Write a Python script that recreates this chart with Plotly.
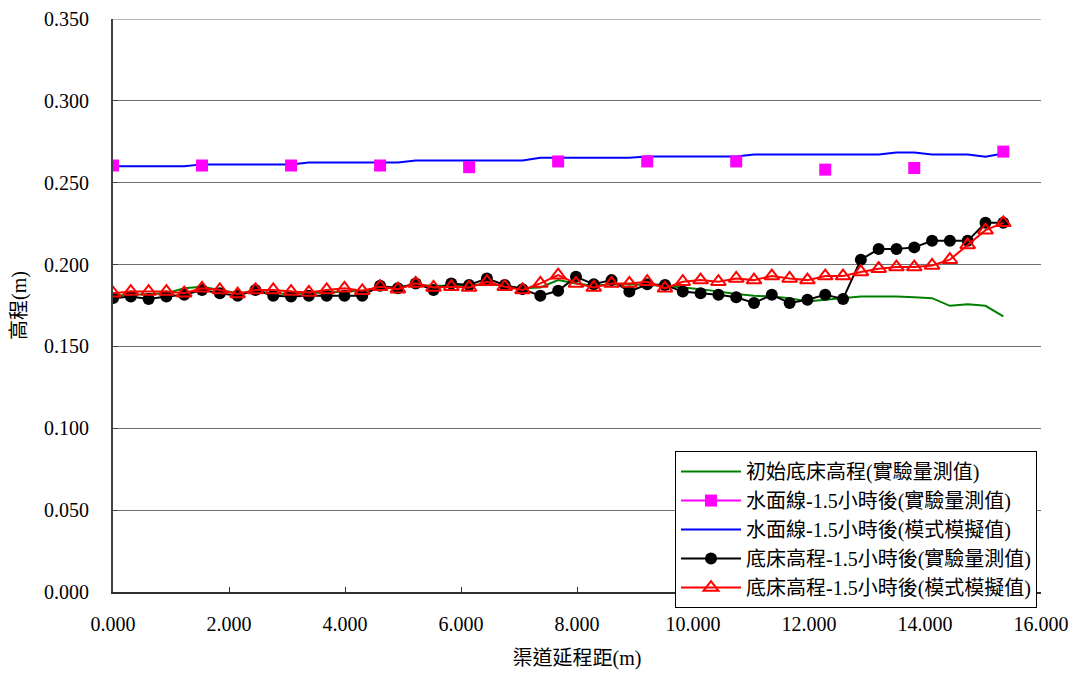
import plotly.graph_objects as go

# Distance along channel (m)
x_model = [0.000, 0.307, 0.614, 0.921, 1.228, 1.535, 1.842, 2.149, 2.456, 2.763,
           3.070, 3.377, 3.684, 3.991, 4.298, 4.605, 4.912, 5.219, 5.526, 5.833,
           6.140, 6.447, 6.754, 7.061, 7.368, 7.675, 7.982, 8.289, 8.596, 8.903,
           9.210, 9.517, 9.824, 10.131, 10.438, 10.745, 11.052, 11.359, 11.666, 11.973,
           12.280, 12.587, 12.894, 13.201, 13.508, 13.815, 14.122, 14.429, 14.736, 15.043,
           15.350]

# Initial bed elevation (measured)
bed_initial = [0.1810, 0.1815, 0.1820, 0.1825, 0.1855, 0.1865, 0.1845, 0.1825, 0.1835, 0.1825,
               0.1820, 0.1825, 0.1830, 0.1835, 0.1840, 0.1855, 0.1860, 0.1875, 0.1870, 0.1870,
               0.1870, 0.1880, 0.1870, 0.1855, 0.1860, 0.1905, 0.1885, 0.1870, 0.1880, 0.1880,
               0.1875, 0.1870, 0.1860, 0.1850, 0.1835, 0.1820, 0.1810, 0.1805, 0.1795, 0.1775,
               0.1785, 0.1795, 0.1805, 0.1805, 0.1805, 0.1800, 0.1795, 0.1748, 0.1758, 0.1748,
               0.1683]

# Water surface after 1.5 h (model)
water_model = [0.2600, 0.2600, 0.2600, 0.2600, 0.2600, 0.2612, 0.2612, 0.2612, 0.2612, 0.2612,
               0.2612, 0.2624, 0.2624, 0.2624, 0.2624, 0.2624, 0.2624, 0.2636, 0.2636, 0.2636,
               0.2636, 0.2636, 0.2636, 0.2636, 0.2652, 0.2652, 0.2652, 0.2652, 0.2652, 0.2652,
               0.2660, 0.2660, 0.2660, 0.2660, 0.2660, 0.2660, 0.2673, 0.2673, 0.2673, 0.2673,
               0.2673, 0.2673, 0.2673, 0.2673, 0.2685, 0.2685, 0.2673, 0.2673, 0.2673, 0.2659,
               0.2679]

# Bed elevation after 1.5 h (measured)
bed_measured = [0.1795, 0.1805, 0.1790, 0.1805, 0.1815, 0.1845, 0.1825, 0.1810, 0.1845, 0.1810,
                0.1805, 0.1810, 0.1810, 0.1810, 0.1810, 0.1870, 0.1855, 0.1885, 0.1845, 0.1885,
                0.1875, 0.1915, 0.1875, 0.1850, 0.1810, 0.1840, 0.1925, 0.1880, 0.1905, 0.1835,
                0.1880, 0.1875, 0.1835, 0.1825, 0.1815, 0.1800, 0.1765, 0.1815, 0.1765, 0.1785,
                0.1815, 0.1790, 0.2030, 0.2095, 0.2095, 0.2105, 0.2145, 0.2145, 0.2145, 0.2255,
                0.2255]

# Bed elevation after 1.5 h (model)
bed_model = [0.1825, 0.1835, 0.1835, 0.1835, 0.1825, 0.1855, 0.1845, 0.1820, 0.1845, 0.1845,
             0.1835, 0.1830, 0.1845, 0.1855, 0.1840, 0.1865, 0.1850, 0.1885, 0.1860, 0.1865,
             0.1860, 0.1895, 0.1865, 0.1845, 0.1885, 0.1935, 0.1885, 0.1860, 0.1885, 0.1885,
             0.1895, 0.1855, 0.1895, 0.1905, 0.1895, 0.1915, 0.1905, 0.1930, 0.1915, 0.1905,
             0.1930, 0.1930, 0.1955, 0.1975, 0.1985, 0.1985, 0.1995, 0.2030, 0.2120, 0.2210,
             0.2255]

# Water surface after 1.5 h (measured)
x_water_meas = [0.000, 1.535, 3.070, 4.605, 6.140, 7.675, 9.210, 10.745, 12.280, 13.815, 15.350]
water_measured = [0.2605, 0.2605, 0.2605, 0.2605, 0.2595, 0.2630, 0.2630, 0.2630, 0.2580, 0.2590, 0.2690]

# Axis ticks
y_ticks = [0.0, 0.05, 0.10, 0.15, 0.20, 0.25, 0.30, 0.35]
x_ticks = [0, 2, 4, 6, 8, 10, 12, 14, 16]

names = ["初始底床高程(實驗量測值)",
         "水面線-1.5小時後(實驗量測值)",
         "水面線-1.5小時後(模式模擬值)",
         "底床高程-1.5小時後(實驗量測值)",
         "底床高程-1.5小時後(模式模擬值)"]

FONT = "Liberation Serif, Noto Sans CJK TC, serif"
GRID = "#707070"

fig = go.Figure()
fig.add_trace(go.Scatter(x=x_model, y=bed_initial, mode="lines", name=names[0],
                         line=dict(color="#008000", width=2), legendrank=1))
fig.add_trace(go.Scatter(x=x_model, y=water_model, mode="lines", name=names[2],
                         line=dict(color="#0000FF", width=2), legendrank=3))
# measured water surface: markers only in the plot
fig.add_trace(go.Scatter(x=x_water_meas, y=water_measured, mode="markers", name=names[1],
                         marker=dict(symbol="square", size=12, color="#FF00FF"),
                         showlegend=False))
# legend entry (line + square) for the measured water surface
fig.add_trace(go.Scatter(x=[None], y=[None], mode="lines+markers", name=names[1],
                         line=dict(color="#FF00FF", width=2),
                         marker=dict(symbol="square", size=12, color="#FF00FF"),
                         legendrank=2))
fig.add_trace(go.Scatter(x=x_model, y=bed_measured, mode="lines+markers", name=names[3],
                         line=dict(color="#000000", width=2),
                         marker=dict(symbol="circle", size=12, color="#000000"),
                         legendrank=4))
fig.add_trace(go.Scatter(x=x_model, y=bed_model, mode="lines+markers", name=names[4],
                         line=dict(color="#FF0000", width=2),
                         marker=dict(symbol="triangle-up-open", size=13, color="#FF0000",
                                     line=dict(width=2, color="#FF0000")),
                         legendrank=5))

# top gridline at the upper end of the y range
fig.add_shape(type="line", xref="paper", yref="y", x0=0, x1=1,
              y0=y_ticks[-1], y1=y_ticks[-1], layer="below",
              line=dict(color=GRID, width=1))

# page body has an 8px margin, so the figure is shifted by 8px
fig.update_layout(
    width=1070, height=667,
    margin=dict(l=105, r=37, t=11, b=83),
    paper_bgcolor="white", plot_bgcolor="white",
    font=dict(family=FONT, size=20, color="black"),
    showlegend=True,
    legend=dict(x=0.9957, xanchor="right", y=0.246, yanchor="top",
                bgcolor="white", bordercolor="black", borderwidth=1,
                font=dict(family=FONT, size=20, color="black"),
                itemwidth=60, tracegroupgap=0),
    xaxis=dict(range=[0, 16], tickmode="array", tickvals=x_ticks,
               ticktext=[f"{v:.3f}" for v in x_ticks],
               showgrid=False, zeroline=False, automargin=False,
               ticklabeloverflow="allow",
               showline=True, linecolor="#303030", linewidth=2,
               ticks="inside", ticklen=5, tickcolor="#303030",
               tickfont=dict(family=FONT, size=20),
               ticklabelstandoff=13,
               title=dict(text="渠道延程距(m)", font=dict(family=FONT, size=20), standoff=17)),
    yaxis=dict(range=[0, 0.35], tickmode="array", tickvals=y_ticks,
               ticktext=[f"{v:.3f}" for v in y_ticks],
               showgrid=True, gridcolor=GRID, gridwidth=1, zeroline=False,
               automargin=False, ticklabeloverflow="allow",
               showline=True, linecolor="#404040", linewidth=2,
               ticks="inside", ticklen=5, tickcolor="#404040",
               tickfont=dict(family=FONT, size=20),
               ticklabelstandoff=18,
               title=dict(text="高程(m)", font=dict(family=FONT, size=20), standoff=12)),
)

fig.write_html("out.html")
